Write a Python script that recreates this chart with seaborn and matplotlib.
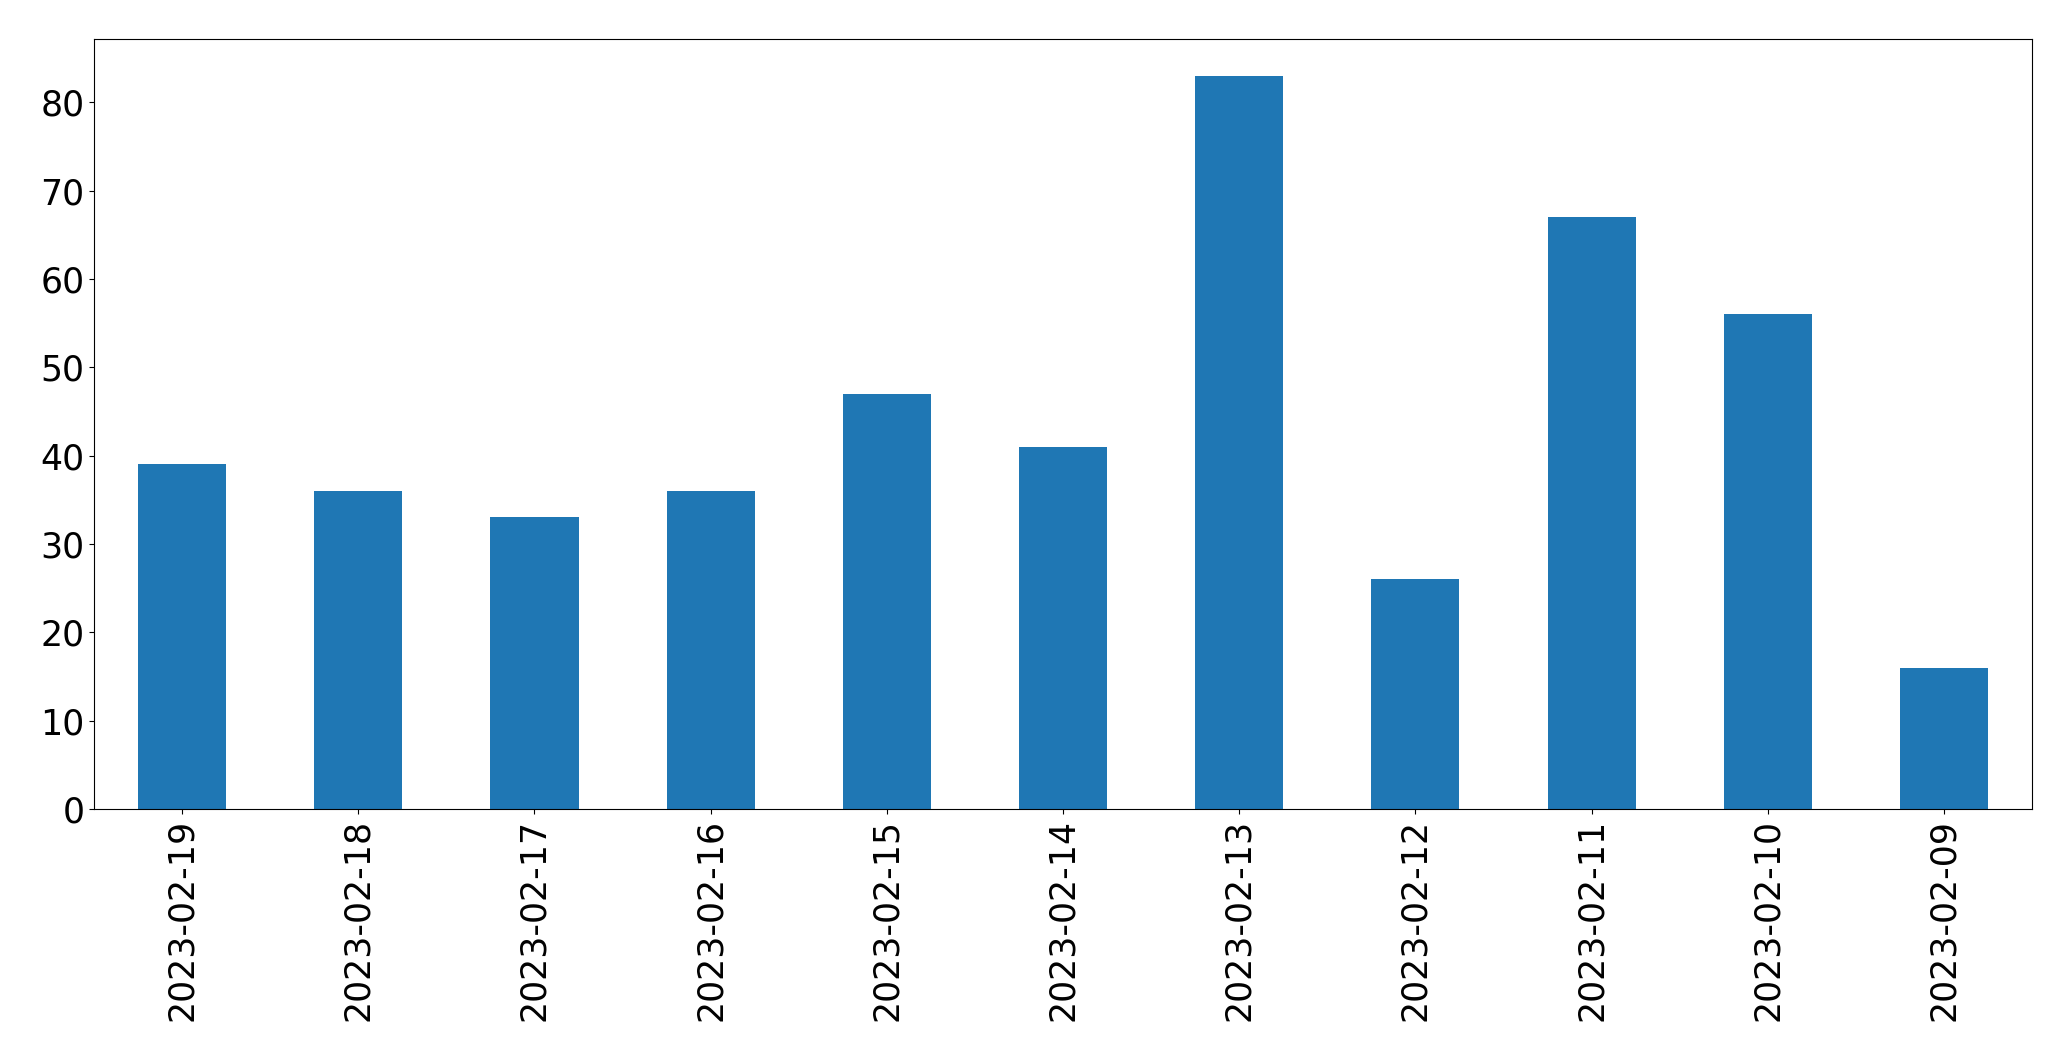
import matplotlib
matplotlib.use('Agg')
import matplotlib.pyplot as plt
import seaborn as sns
import pandas as pd

# daily counts, newest first
dates = ['2023-02-19', '2023-02-18', '2023-02-17', '2023-02-16', '2023-02-15', '2023-02-14',
         '2023-02-13', '2023-02-12', '2023-02-11', '2023-02-10', '2023-02-09']
counts = [39, 36, 33, 36, 47, 41, 83, 26, 67, 56, 16]

df = pd.DataFrame({'date': dates, 'count': counts})

fig = plt.figure(figsize=(20.71, 10.61), dpi=100)
ax = fig.add_axes([94 / 2071, 1 - 809 / 1061, (2032 - 94) / 2071, (809 - 39) / 1061])

sns.barplot(data=df, x='date', y='count', order=dates, color='#1f77b4', saturation=1,
            width=0.5, ax=ax)
ax.set_xlim(-0.5, len(dates) - 0.5)
ax.set_ylim(0, max(counts) * 1.05)
ax.set_xlabel('')
ax.set_ylabel('')
ax.tick_params(axis='both', labelsize=25)
ax.tick_params(axis='x', labelrotation=90)

fig.savefig('out.png', dpi=100)
